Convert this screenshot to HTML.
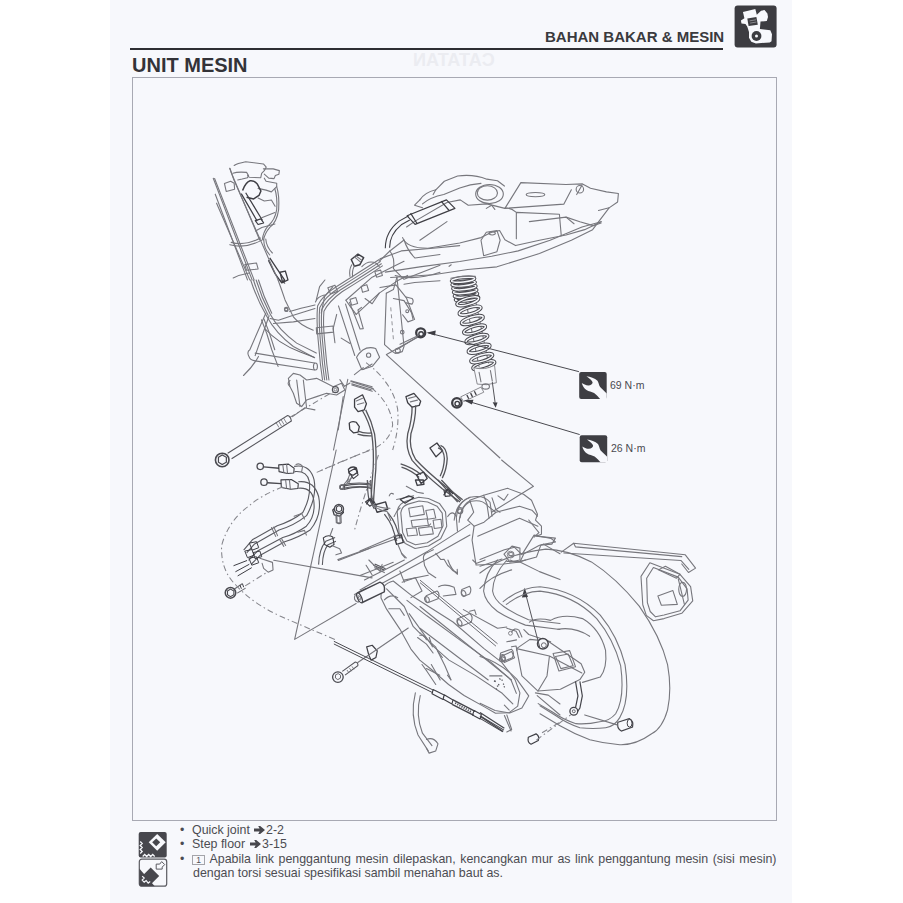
<!DOCTYPE html>
<html><head><meta charset="utf-8">
<style>
html,body{margin:0;padding:0;width:903px;height:903px;overflow:hidden;background:#ffffff;}
body{position:relative;font-family:"Liberation Sans",sans-serif;color:#3a3a3e;}
#page{position:absolute;left:110px;top:0;width:682px;height:903px;background:#f7f8fc;}
.abs{position:absolute;white-space:nowrap;}
#hdr{left:545px;top:28px;font-size:15px;font-weight:bold;color:#3a3a3e;letter-spacing:0;}
#hline{position:absolute;left:130px;top:48px;width:593px;height:2px;background:#2e2e33;}
#icon{position:absolute;left:735px;top:6px;width:42px;height:41px;background:#3c3c40;border-radius:3px;}
#title{left:132px;top:53.5px;font-size:20px;font-weight:bold;color:#333338;}
#frame{position:absolute;left:132px;top:77px;width:645px;height:744px;border:1.2px solid #a8a9b3;box-sizing:border-box;}
.note{position:absolute;font-size:12.4px;color:#4c4c52;white-space:nowrap;}
svg{position:absolute;left:0;top:0;}
svg path,svg circle,svg ellipse,svg rect,svg line,svg polyline,svg polygon{vector-effect:non-scaling-stroke;}
.d{fill:none;stroke:#77777d;stroke-width:1.1;stroke-linejoin:round;stroke-linecap:round;}
.k{fill:none;stroke:#3e3e44;stroke-width:1.3;stroke-linejoin:round;}
.f{fill:#46464c;stroke:#3e3e44;stroke-width:1;}
.w{fill:#f7f8fc;stroke:#808086;stroke-width:0.9;}
.ds{fill:none;stroke:#85858b;stroke-width:1.05;stroke-dasharray:6 3 1.5 3;}
</style></head>
<body>
<div id="page"></div>
<div class="abs" style="left:413px;top:50.2px;font-size:18px;font-weight:bold;color:#ebecf1;transform:scaleX(-1);">CATATAN</div>
<div id="hline"></div>
<div class="abs" id="hdr">BAHAN BAKAR &amp; MESIN</div>
<div class="abs" id="title">UNIT MESIN</div>
<div id="frame"></div>

<svg width="903" height="903" viewBox="0 0 903 903">
<g transform="translate(220,160) scale(0.088594)">
<path class="d" d="M160,62 Q190,40 290,20 L490,45 L522,80 L500,120 L470,150 L460,200 L330,195 L310,170"/>
<path class="d" d="M490,100 L600,100 L670,120 L665,160 L625,175 L610,210 L550,205 L500,160"/>
<path class="d" d="M500,205 L520,240 L640,262 L640,300 L580,360 L520,340 L430,320"/>
<path class="d" d="M50,265 L120,240 L160,262 L165,330 L70,355 Z"/>
<path class="d" d="M145,150 Q200,130 300,140 L322,175 L310,200 L250,215 L200,225"/>
<path class="d" d="M110,95 L130,150 L448,903"/>
<path class="k" d="M255,345 Q290,250 340,235 Q390,230 420,270 L462,350 L440,400 L380,440 L300,420" style="stroke-width:1.5"/>
<path class="k" d="M240,380 L420,690 M290,370 L478,680" style="stroke-width:1.2"/>
<path class="k" d="M398,685 L462,665 L492,710 L430,728 Z" style="stroke-width:1.2"/>
<path class="d" d="M640,300 Q672,400 662,560 Q642,700 562,760 Q502,830 492,903 M618,322 Q650,420 640,560 Q620,680 545,740 Q487,810 477,903"/>
<path class="d" d="M430,430 L500,462 L580,452 L622,522 M470,652 L620,592 M400,802 L472,762 L620,722"/>
</g>

<g transform="translate(200,280) scale(0.16611)">
<!-- cables -->
<path class="d" d="M305,0 Q340,110 400,215 Q455,320 562,400 L690,468"/>
<path class="d" d="M322,0 Q356,110 410,212"/>
<path class="d" d="M338,0 Q370,105 422,205 Q472,300 582,380 L700,440"/>
<path class="d" d="M352,0 Q382,100 432,200"/>
<path d="M390,292 Q470,382 600,432 L690,466" fill="none" stroke="#6a6a70" stroke-width="1.1"/>
<path class="d" d="M370,240 L402,322 L432,420 L470,520 M385,235 L418,320 L450,420"/>
<!-- frame band -->
<path class="d" d="M470,0 Q492,60 512,120 L562,222 Q602,272 682,302"/>
<circle class="d" cx="520" cy="180" r="10"/>
<path class="d" d="M422,232 L472,242 L562,212 L692,172 M442,262 L562,252 L692,232 M540,190 Q600,170 692,150"/>
<path class="d" d="M480,0 L510,20 L500,0"/>
<!-- horizontal tube -->
<path class="d" d="M292,455 Q282,430 300,420 L396,200 M332,455 L416,215"/>
<path class="d" d="M294,458 Q300,482 332,487 L690,542 M332,440 L690,500"/>
<ellipse class="d" cx="695" cy="521" rx="12" ry="21"/>
<path class="d" d="M262,575 Q320,520 352,460"/>
<path class="d" d="M752,0 L720,40 L700,120 M800,40 L750,100 L730,200 M850,350 L903,382"/>
<!-- bracket -->
<path class="d" d="M532,592 L562,562 L602,572 L642,602 L702,592 L762,622 L802,642 L852,622 L872,662 L822,692 L762,682 L702,702 L642,722 L612,762 L582,742 L562,682 L542,642 Z"/>
<path class="d" d="M582,602 L602,762 M622,602 L642,772 L692,782 M542,605 Q520,620 540,640"/>
<circle cx="815" cy="660" r="18" fill="none" stroke="#55555b" stroke-width="1.2"/>
<circle cx="815" cy="660" r="8" fill="none" stroke="#7a7a80" stroke-width="0.9"/>
<path class="d" d="M862,702 L832,903"/>
<path class="d" d="M842,600 L870,640 L903,620"/>
</g>

<g transform="translate(380,160) scale(0.26578)">
<path class="d" d="M150,150 Q168,122 210,112 L242,80 L292,60 Q352,52 402,72 L442,78 L468,98"/>
<path class="d" d="M160,165 Q190,140 240,130 L300,105 Q340,90 380,88"/>
<ellipse class="d" cx="412" cy="128" rx="52" ry="36"/>
<ellipse class="d" cx="404" cy="124" rx="38" ry="27"/>
<path class="d" d="M470,182 L530,85 L700,92 L762,90 L792,106 L852,120 L897,126 L894,158 L862,180 L822,190"/>
<path class="d" d="M470,182 L692,166 M692,166 L720,112"/>
<ellipse class="d" cx="585" cy="130" rx="35" ry="8"/>
<circle class="d" cx="752" cy="110" r="14"/>
<path class="d" d="M740,130 L760,95"/>
<path class="d" d="M100,252 L132,230 L252,160 L302,150 L332,170 L402,165 L470,182"/>
<path class="d" d="M85,292 Q100,332 180,332 L300,312 L380,292 L420,272 L450,265 L470,300 L510,322 L600,302 L700,282 L770,262 L832,232"/>
<path class="d" d="M562,232 L700,215 L752,232 L802,247 L832,237"/>
<path class="d" d="M472,181 Q490,178 513,197 L513,296 M513,197 L675,204 L682,285 M700,215 L730,240"/>
<path class="d" d="M380,302 L400,272 L440,265 L452,302 L440,345 L390,360 Z"/>
<ellipse class="d" cx="422" cy="276" rx="12" ry="6"/>
<path class="d" d="M0,372 L80,342 L200,332 L300,322"/>
<path class="d" d="M20,422 L150,402 L300,382 L420,362 L520,342 L640,302 L760,252 L832,232"/>
<path class="d" d="M40,442 L200,432 L330,412 L440,402 L600,352 L720,302 L800,262 L862,180"/>
<path class="k" d="M102,210 L250,150 L282,182 L132,242 Z" style="stroke-width:1.2"/>
<path class="k" d="M115,200 L140,240 M230,155 L260,190" style="stroke-width:1.2"/>
<path class="k" d="M20,332 Q20,270 72,230 L108,210 M36,330 Q36,280 80,244 L112,226" style="stroke-width:1.1"/>
<path class="d" d="M150,302 L252,232"/>
<path class="d" d="M400,182 L420,170 L432,186 M260,400 L268,394"/>
<path class="d" d="M150,150 L130,170 L160,180 M210,112 L200,130"/>
<path class="d" d="M0,480 L60,470 L100,520 L130,600"/>
</g>

<g transform="translate(190,150) scale(0.33223)">
<!-- cables -->
<path class="d" d="M222,270 Q222,295 240,316 M228,268 Q230,292 248,310"/>
<path class="d" d="M70,85 L187,391"/>
<path class="d" d="M74,86 L193,391"/>
<path class="d" d="M76,133 L173,391"/>
<path class="d" d="M80,160 L180,391"/>
<path class="d" d="M120,285 Q165,298 215,272"/>
<path class="d" d="M124,278 Q165,290 212,265"/>
<path class="d" d="M165,345 L200,340 L205,358 L170,362 Z"/>
<path class="d" d="M130,385 Q150,375 178,370"/>
<path class="k" d="M240,325 L262,358 L285,392 L276,400 L256,372 L236,332"/>
<path class="d" d="M120,55 L132,90 L265,391"/>
<path class="ds" d="M300,805 L440,722"/>
<!-- triangle lines -->
<path class="d" d="M475,690 L432,903"/>
<path class="d" d="M591,616 L933,927"/>
<path class="ds" d="M530,640 Q610,700 625,780 Q630,840 610,903"/>
</g>

<g transform="translate(490,150) scale(0.33223)">
</g>

<g transform="translate(190,450) scale(0.33223)">
<!-- triangle lines -->
<path class="d" d="M440,0 L315,570 L500,462"/>
<path class="d" d="M252,332 L548,385"/>
<path class="d" d="M445,330 L635,262"/>
</g>

<g transform="translate(490,450) scale(0.33223)">
</g>

<g transform="translate(380,460) scale(0.19934)">
<!-- hose -->
<path class="d" d="M372,302 Q382,212 452,187 Q522,172 552,212 L562,282"/>
<path class="d" d="M397,312 Q402,232 457,207 Q512,197 537,227 L547,292"/>
<circle class="d" cx="402" cy="257" r="12"/>
<!-- airbox -->
<path class="d" d="M450,202 L520,177 L640,142 L720,172 L760,202 L790,272 L780,302 L810,332 L810,372 L782,382 L880,392 L862,422 L800,428 L722,470 L702,512 L620,522 L482,527 L462,402 L472,332 L440,302 L470,262 Z"/>
<path class="d" d="M472,332 L522,312 L582,262 L700,232 L762,252 L790,282 M490,382 L700,292 L792,332"/>
<path class="d" d="M562,190 L582,250 L602,262 M592,180 L622,202 L642,172 M520,177 L540,230 L580,262"/>
<path class="d" d="M622,472 L662,432 L702,442 L702,502 L652,512 Z"/>
<ellipse class="d" cx="657" cy="472" rx="12" ry="8"/>
<path class="d" d="M610,0 L770,132 L560,262"/>
<!-- frame diag and crankcase -->
<path class="d" d="M820,422 L903,470 M702,512 L800,560 L903,600"/>
</g>

<g transform="translate(360,480) scale(0.12182)">
<!-- head outline double -->
<path class="d" d="M305,262 Q312,195 382,172 L482,142 L562,152 L652,192 L702,262 L712,380 L662,482 L562,542 L452,562 L372,522 L322,442 Z"/>
<path class="d" d="M335,270 Q342,215 395,198 L485,172 L555,180 L632,215 L675,272 L682,375 L640,462 L552,515 L455,532 L385,500 L350,432 Z"/>
<!-- fins -->
<path class="d" d="M400,232 L515,212 L528,282 L412,302 Z"/>
<path class="d" d="M540,250 L605,240 L622,312 L556,322 Z"/>
<path class="d" d="M420,332 L552,318 L562,372 L430,386 Z"/>
<path class="d" d="M480,395 L590,382 L602,442 L492,455 Z"/>
<path class="d" d="M380,400 L460,392 L472,452 L392,460 Z"/>
<path class="d" d="M600,330 L665,322 L672,390 L610,398 Z"/>
<path class="d" d="M280,300 Q300,250 330,230 M720,300 Q760,240 790,300 L800,420"/>
<!-- harness left -->
<path class="k" d="M60,0 Q62,100 72,152 L118,238 M88,0 Q90,100 100,150 L140,222" style="stroke:#55555b;stroke-width:1.2"/>
<path class="k" d="M45,180 L75,158 L110,195 L80,215 Z" style="stroke-width:1.2"/>
<path class="k" d="M118,205 L210,180 L228,240 L140,265 Z" style="stroke-width:1.4"/>
<path class="k" d="M200,280 Q240,330 262,380 L302,500 M230,270 Q272,320 292,372 L330,480" style="stroke:#55555b;stroke-width:1.2"/>
<path class="k" d="M280,462 L340,450 L355,512 L300,528 Z" style="stroke-width:1.4"/>
<path class="d" d="M310,528 L345,610 L370,640"/>
<!-- top connector and right harness -->
<path class="k" d="M455,0 L520,0 L525,35 L470,45 Z" style="stroke-width:1.3"/>
<path class="d" d="M380,52 L470,100 L520,110 M240,130 Q250,100 275,115 M300,160 L440,130"/>
<path class="k" d="M330,160 L400,130 L440,145 L370,190 Z" style="stroke-width:1.2"/>
<path class="k" d="M640,0 L802,182 M668,0 L828,170" style="stroke:#55555b;stroke-width:1.3"/>
<path class="k" d="M690,85 L735,80 L740,130 L700,135 Z" style="stroke-width:1.2"/>
<path class="d" d="M792,302 Q802,182 903,142 M822,310 Q830,210 903,170"/>
<circle class="d" cx="820" cy="250" r="24"/>
<!-- long diagonals -->
<path class="d" d="M0,582 L332,442"/>
<path class="d" d="M0,903 L560,582 L903,362"/>
<path class="d" d="M80,903 L600,622 L903,452"/>
<!-- crankcase corner -->
<path class="d" d="M520,642 Q520,602 562,592 L602,572 M520,642 L530,702 L560,762 L622,802"/>
<path class="d" d="M622,602 L662,652 L690,650 L720,702 L740,720 L760,742 L800,762"/>
<path class="d" d="M360,822 L560,782 M120,720 L200,760 M50,700 L100,780"/>
<path class="k" d="M110,700 L200,740 M120,690 L210,728" style="stroke:#55555b;stroke-width:1.2"/>
<path class="d" d="M340,600 L380,640 M560,380 L580,360"/>
</g>

<g transform="translate(280,240) scale(0.17719)">
<!-- cable bundle -->
<path class="d" d="M560,110 Q450,180 320,262 Q240,310 212,372 Q205,450 215,560 L228,700 L240,790"/>
<path class="d" d="M566,122 Q458,192 330,272 Q252,322 224,382 Q218,455 227,560 L240,700 L252,790"/>
<path class="d" d="M572,134 Q466,204 340,282 Q264,334 236,392 Q230,460 239,560 L252,700 L264,790"/>
<path class="d" d="M578,146 Q474,216 350,292 Q276,346 248,402 Q242,465 251,560 L264,700 L276,790"/>
<path class="d" d="M205,495 L300,485 L302,520 L207,530 Z"/>
<path class="d" d="M270,270 L310,255 L325,290 L285,305 Z M200,350 Q210,320 250,310"/>
<!-- rear frame plate -->
<path class="d" d="M372,340 L520,210 L640,150 L700,120"/>
<path class="d" d="M430,420 L560,300 L660,232 L720,200"/>
<path class="d" d="M372,340 L400,380 L430,420"/>
<path class="d" d="M535,178 L568,170 L578,200 L545,210 Z M458,262 L490,252 L500,285 L466,295 Z M395,335 L428,325 L438,358 L404,368 Z"/>
<path class="d" d="M480,330 L520,360 L560,300"/>
<!-- vertical hanger plate -->
<path class="d" d="M600,300 L590,590 L625,622 M660,210 L700,600 L690,630 L650,640 L625,622"/>
<circle class="d" cx="665" cy="625" r="14"/>
<path d="M625,380 L640,560" stroke="#8a8a90" stroke-width="0.9" stroke-dasharray="4 3" fill="none"/>
<circle class="d" cx="690" cy="520" r="10"/>
<path class="d" d="M600,300 L640,280 L660,210"/>
<!-- tab right -->
<path class="d" d="M640,330 L700,342 L742,410 L752,452 L722,462 L692,422"/>
<circle class="d" cx="718" cy="402" r="8"/>
<path class="d" d="M712,322 L745,330 Q758,345 745,362 L712,355"/>
<path class="d" d="M780,545 L660,618"/>
<!-- rear tube -->
<path class="d" d="M330,372 L422,652 M370,362 L452,622"/>
<path class="d" d="M392,352 L452,502 L470,500 L440,395 L460,380"/>
<path class="d" d="M320,420 L300,500 L310,580"/>
<!-- tank front -->
<path class="d" d="M620,62 Q650,102 640,162 L700,222 L903,142"/>
<path class="d" d="M700,0 Q720,60 762,102 L903,82 M650,200 Q760,232 903,182 M700,250 L760,240 L903,230"/>
<path class="d" d="M560,120 L620,62 L700,0"/>
<!-- dark connector -->
<path class="k" d="M402,110 L440,80 L472,100 L450,140 L420,148 Z" style="stroke-width:1.5"/>
<path class="d" d="M420,95 L455,125 M430,90 L462,115"/>
<path class="d" d="M405,140 Q388,170 395,205 M420,146 Q405,175 410,208"/>
<path class="d" d="M462,150 Q500,110 545,132 L560,150"/>
<path class="k" d="M0,182 L30,175 L45,225 L15,240 Z"/>
<!-- pivot / mount -->
<path class="d" d="M432,662 Q472,592 540,612 L562,662 L522,712 L462,732 Z"/>
<circle class="d" cx="500" cy="650" r="12"/>
<path class="d" d="M420,760 L470,720 M470,730 L520,700"/>
<path class="d" d="M400,795 L520,828 M405,812 L515,845"/>
<circle class="d" cx="35" cy="390" r="10"/>
</g>

<g transform="translate(320,370) scale(0.17719)">
<path class="k" d="M195,165 L240,140 L262,190 L250,225 L215,235 L195,210 Z"/>
<path class="d" d="M205,175 L240,160 M212,195 L248,185"/>
<path class="k" d="M240,230 Q275,290 292,360 Q305,450 300,560 Q290,680 288,745 M258,225 Q292,290 308,360 Q320,450 315,560 Q305,680 302,745" style="stroke:#55555a"/>
<path class="k" d="M165,300 Q180,285 205,295 L222,320 L215,350 L190,355 L168,335 Z"/>
<path class="k" d="M215,345 Q250,360 290,355 M212,362 Q250,374 292,372" style="stroke:#55555a"/>
<path class="k" d="M290,650 Q210,635 130,655 M290,668 Q215,652 135,674" style="stroke:#55555a"/>
<circle class="k" cx="125" cy="662" r="12"/>
<path class="k" d="M160,560 Q180,540 205,552 L212,578 L185,595 L165,585 Z"/>
<path class="d" d="M168,590 L152,630 M182,595 L162,640"/>
<path class="k" d="M262,758 L282,725 L308,752"/>
<path class="d" d="M290,760 Q330,790 380,800 L400,850 M300,760 Q340,780 395,780"/>
<path class="k" d="M485,150 L530,132 L568,176 L560,200 L520,210 L495,185 Z"/>
<path class="d" d="M500,160 L540,150 M510,180 L550,170"/>
<path class="k" d="M520,205 Q520,280 495,360 Q480,440 520,510 Q580,580 690,670 L790,745 M540,200 Q540,280 513,360 Q500,440 540,505 Q600,570 705,655 L805,732" style="stroke:#55555a"/>
<path class="k" d="M620,440 L660,412 L692,455 L655,490 Z"/>
<path class="k" d="M680,425 Q715,436 718,500 Q715,560 690,610 M666,440 Q700,450 702,500 Q700,555 678,600" style="stroke:#55555a"/>
<path class="k" d="M698,708 L720,672 L752,700"/>
<path class="k" d="M455,530 Q520,550 570,590 M460,548 Q515,566 560,606" style="stroke:#55555a"/>
<path class="k" d="M545,592 L585,576 L605,612 L570,640 Z"/>
<path class="k" d="M72,790 L95,770 L125,778 L132,805 L110,825 L80,818 Z"/>
<path class="d" d="M90,822 L92,862 M112,822 L114,862 M92,862 L114,862"/>
<path class="ds" d="M290,100 Q400,190 410,310 Q395,420 250,465 Q110,520 0,570"/>
<path class="ds" d="M330,480 Q250,700 195,903"/>
<path class="d" d="M175,65 L300,105 M180,85 L295,120"/>
</g>
<path class="d" d="M386.5,354.6 L418,337"/>

<g transform="translate(400,250) scale(0.18832)">
<path class="d" d="M345,250 L420,620 M395,240 L470,600"/>
<ellipse cx="356" cy="258" rx="62" ry="12" transform="rotate(-6 356 258)" fill="none" stroke="#4a4a50" stroke-width="3.4"/><ellipse cx="356" cy="258" rx="62" ry="12" transform="rotate(-6 356 258)" fill="none" stroke="#f7f8fc" stroke-width="1.4"/>
<ellipse cx="350" cy="238" rx="62" ry="12" transform="rotate(-6 350 238)" fill="none" stroke="#4a4a50" stroke-width="3.4"/><ellipse cx="350" cy="238" rx="62" ry="12" transform="rotate(-6 350 238)" fill="none" stroke="#f7f8fc" stroke-width="1.4"/>
<ellipse cx="346" cy="218" rx="62" ry="12" transform="rotate(-6 346 218)" fill="none" stroke="#4a4a50" stroke-width="3.4"/><ellipse cx="346" cy="218" rx="62" ry="12" transform="rotate(-6 346 218)" fill="none" stroke="#f7f8fc" stroke-width="1.4"/>
<ellipse cx="342" cy="198" rx="62" ry="12" transform="rotate(-6 342 198)" fill="none" stroke="#4a4a50" stroke-width="3.4"/><ellipse cx="342" cy="198" rx="62" ry="12" transform="rotate(-6 342 198)" fill="none" stroke="#f7f8fc" stroke-width="1.4"/>
<ellipse cx="338" cy="178" rx="62" ry="12" transform="rotate(-6 338 178)" fill="none" stroke="#4a4a50" stroke-width="3.4"/><ellipse cx="338" cy="178" rx="62" ry="12" transform="rotate(-6 338 178)" fill="none" stroke="#f7f8fc" stroke-width="1.4"/>
<ellipse cx="335" cy="158" rx="62" ry="12" transform="rotate(-6 335 158)" fill="none" stroke="#4a4a50" stroke-width="3.4"/><ellipse cx="335" cy="158" rx="62" ry="12" transform="rotate(-6 335 158)" fill="none" stroke="#f7f8fc" stroke-width="1.4"/>
<ellipse cx="445" cy="612" rx="60" ry="17" transform="rotate(-16 445 612)" fill="none" stroke="#4a4a50" stroke-width="3.4"/><ellipse cx="445" cy="612" rx="60" ry="17" transform="rotate(-16 445 612)" fill="none" stroke="#f7f8fc" stroke-width="1.4"/>
<ellipse cx="434" cy="574" rx="60" ry="17" transform="rotate(-16 434 574)" fill="none" stroke="#4a4a50" stroke-width="3.4"/><ellipse cx="434" cy="574" rx="60" ry="17" transform="rotate(-16 434 574)" fill="none" stroke="#f7f8fc" stroke-width="1.4"/>
<ellipse cx="420" cy="524" rx="60" ry="17" transform="rotate(-16 420 524)" fill="none" stroke="#4a4a50" stroke-width="3.4"/><ellipse cx="420" cy="524" rx="60" ry="17" transform="rotate(-16 420 524)" fill="none" stroke="#f7f8fc" stroke-width="1.4"/>
<ellipse cx="408" cy="472" rx="60" ry="17" transform="rotate(-16 408 472)" fill="none" stroke="#4a4a50" stroke-width="3.4"/><ellipse cx="408" cy="472" rx="60" ry="17" transform="rotate(-16 408 472)" fill="none" stroke="#f7f8fc" stroke-width="1.4"/>
<ellipse cx="396" cy="422" rx="60" ry="17" transform="rotate(-16 396 422)" fill="none" stroke="#4a4a50" stroke-width="3.4"/><ellipse cx="396" cy="422" rx="60" ry="17" transform="rotate(-16 396 422)" fill="none" stroke="#f7f8fc" stroke-width="1.4"/>
<ellipse cx="384" cy="372" rx="60" ry="17" transform="rotate(-16 384 372)" fill="none" stroke="#4a4a50" stroke-width="3.4"/><ellipse cx="384" cy="372" rx="60" ry="17" transform="rotate(-16 384 372)" fill="none" stroke="#f7f8fc" stroke-width="1.4"/>
<ellipse cx="372" cy="322" rx="60" ry="17" transform="rotate(-16 372 322)" fill="none" stroke="#4a4a50" stroke-width="3.4"/><ellipse cx="372" cy="322" rx="60" ry="17" transform="rotate(-16 372 322)" fill="none" stroke="#f7f8fc" stroke-width="1.4"/>
<ellipse cx="360" cy="272" rx="60" ry="17" transform="rotate(-16 360 272)" fill="none" stroke="#4a4a50" stroke-width="3.4"/><ellipse cx="360" cy="272" rx="60" ry="17" transform="rotate(-16 360 272)" fill="none" stroke="#f7f8fc" stroke-width="1.4"/>
<path class="d" d="M270,150 Q330,135 400,140"/>
<path class="w" d="M392,625 L410,712 Q460,722 512,705 L502,612 Q450,640 392,625 Z"/>
<path class="d" d="M420,650 L430,700 M480,640 L490,695"/>
<ellipse class="d" cx="455" cy="725" rx="20" ry="14"/>
<circle cx="110" cy="440" r="24" fill="#f7f8fc" stroke="#3e3e44" stroke-width="2.3"/>
<circle cx="112" cy="446" r="12" fill="none" stroke="#3e3e44" stroke-width="1.4"/>
<path d="M0,500 L95,455" class="d"/>
<path d="M150,440 L950,646" stroke="#4a4a50" stroke-width="1" fill="none"/>
<path d="M140,440 L190,428 L186,454 Z" fill="#3e3e44"/>
<path class="w" d="M322,780 L430,728 L445,755 L338,805 Z"/>
<path class="k" d="M355,770 L365,790 M375,760 L385,780 M395,750 L405,770"/>
<circle cx="302" cy="812" r="25" fill="#f7f8fc" stroke="#3e3e44" stroke-width="2.3"/>
<circle cx="304" cy="816" r="12" fill="none" stroke="#3e3e44" stroke-width="1.4"/>
<path d="M350,800 L954,980" stroke="#4a4a50" stroke-width="1" fill="none"/>
<path d="M338,798 L390,795 L382,820 Z" fill="#3e3e44"/>
<path d="M490,700 L505,810" stroke="#55555a" stroke-width="1" fill="none"/>
<path d="M492,808 L518,810 L508,838 Z" fill="#3e3e44"/>

</g>
<g transform="translate(200,440) scale(0.18826)">
<!-- long bolt head -->
<circle cx="118" cy="106" r="36" fill="#f7f8fc" stroke="#4a4a50" stroke-width="1.6"/>
<path d="M98,92 L118,80 L140,92 L140,118 L118,130 L98,118 Z" fill="none" stroke="#4a4a50" stroke-width="1.2"/>
<!-- cable 1 -->
<circle cx="320" cy="140" r="17" fill="#f7f8fc" stroke="#4a4a50" stroke-width="1.3"/>
<path d="M337,143 L420,150" stroke="#4a4a50" stroke-width="1.3" fill="none"/>
<path class="k" d="M418,132 L470,128 L500,150 L498,175 L465,178 L420,168 Z" style="stroke-width:1.1"/>
<path class="d" d="M440,132 L445,172 M460,130 L465,176"/>
<path class="k" d="M500,140 Q585,125 606,212 Q622,302 566,402 Q500,455 420,478 L290,552 L248,600 M502,168 Q568,162 580,218 Q592,300 546,385 Q490,430 410,455 L278,530 L232,585" style="stroke:#5a5a60;stroke-width:1.1"/>
<!-- cable 2 -->
<circle cx="340" cy="224" r="17" fill="#f7f8fc" stroke="#4a4a50" stroke-width="1.3"/>
<path d="M357,227 L432,232" stroke="#4a4a50" stroke-width="1.3" fill="none"/>
<path class="k" d="M430,212 L485,210 L522,232 L520,258 L482,262 L432,252 Z" style="stroke-width:1.1"/>
<path class="d" d="M455,214 L460,256 M475,212 L480,260"/>
<path class="k" d="M522,222 Q605,212 630,300 Q650,400 585,478 Q520,520 450,540 L320,612 L272,660 M522,256 Q595,250 604,320 Q616,402 565,458 Q505,500 440,518 L305,590 L258,640" style="stroke:#5a5a60;stroke-width:1.1"/>
<path class="d" d="M510,130 Q530,120 545,140 L540,168"/>
<path class="d" d="M380,465 L402,512 M392,462 L412,508 M425,532 L445,565 M435,528 L455,560"/>
<path class="k" d="M262,548 L300,540 L312,572 L278,585 Z M238,590 L275,582 L288,612 L252,625 Z M260,628 L300,620 L312,652 L275,665 Z M282,598 L318,590 L328,620 L292,630 Z" style="stroke-width:1"/>
<path class="d" d="M500,405 L540,390 L555,420 M520,490 L555,480 L565,505"/>
<path class="k" d="M250,640 L178,668 M262,660 L188,700 M275,678 L200,722" style="stroke-width:1"/>
<path class="d" d="M318,628 L385,650 L388,690 L362,702 L338,682 L330,655"/>
<!-- small bolt -->
<path class="d" d="M185,790 L222,765 M200,812 L240,788" style="stroke:#6a6a70;stroke-width:1.1"/>
<path class="k" d="M212,770 L220,790 M225,762 L232,782" style="stroke-width:1"/>
<circle cx="162" cy="812" r="28" fill="#f7f8fc" stroke="#4a4a50" stroke-width="1.5"/>
<path d="M146,802 L162,792 L180,802 L180,822 L162,832 L146,822 Z" fill="none" stroke="#4a4a50" stroke-width="1.1"/>
<path class="ds" d="M240,775 L360,700"/>
<!-- dashed curve -->
<path class="ds" d="M440,250 Q330,290 260,350 Q150,430 115,560 Q108,690 190,770"/>
<path class="ds" d="M620,172 L903,52"/>
<!-- right bolt + hose -->
<circle cx="738" cy="366" r="24" fill="#f7f8fc" stroke="#4a4a50" stroke-width="1.5"/>
<path d="M725,356 L738,348 L752,356 L752,374 L738,382 L725,374 Z" fill="none" stroke="#4a4a50" stroke-width="1.1"/>
<path class="d" d="M726,390 L728,440 Q738,448 750,440 L748,390" style="stroke:#6a6a70"/>
<path class="k" d="M630,662 Q632,580 668,538 L718,518 M650,664 Q652,592 680,556 L722,538" style="stroke:#5a5a60;stroke-width:1.1"/>
<path class="k" d="M655,520 Q680,500 705,515 L712,555 L690,570 L662,555 Z" style="stroke-width:1.1"/>
<path class="d" d="M705,470 L690,510 M700,560 L742,578 L752,600 L722,610"/>
<path class="k" d="M790,170 L825,150 L840,185 L815,205 Z" style="stroke-width:1.1"/>
<path class="d" d="M805,200 L780,230 M790,205 L765,235"/>
<path class="k" d="M750,240 Q820,222 903,232 M752,258 Q822,242 903,250" style="stroke:#5a5a60;stroke-width:1.1"/>
<ellipse class="d" cx="752" cy="250" rx="10" ry="12"/>
<path class="d" d="M735,640 L903,575"/>
<path class="d" d="M820,820 L880,790 M840,860 L903,825 M825,822 Q810,850 840,862"/>
</g>

<g transform="translate(360,560) scale(0.22148)">
<!-- transmission case -->
<path class="d" d="M150,95 L232,160 L420,280 L560,400 L640,462 L700,540 L722,600 L712,660 L672,690 L612,692 L560,662 L470,612 L400,562 L320,492 L270,452 L230,402 L180,312 L120,222 L95,172 Q92,110 150,95 Z"/>
<path class="d" d="M212,182 L302,252 L452,362 L592,462 L682,542 L706,602"/>
<path class="d" d="M222,242 L322,382 L402,452 L522,522 L642,602 L690,650"/>
<path class="d" d="M120,130 L200,210 L240,300 L270,330 M130,220 L180,220 L200,250 M110,180 Q140,150 170,170"/>
<path class="d" d="M260,350 L300,380 L330,420 M270,340 Q290,335 300,360"/>
<path class="d" d="M300,490 L360,520 M350,410 L372,440 M395,520 L410,540"/>
<!-- engine mount bushing -->
<path d="M-12,149 L90,100 Q116,108 110,144 L8,193" fill="#f7f8fc" stroke="#45454b" stroke-width="1.4"/>
<ellipse cx="-2" cy="171" rx="9" ry="24" transform="rotate(-25 -2 171)" fill="#f7f8fc" stroke="#45454b" stroke-width="1.3"/><ellipse cx="-2" cy="171" rx="4" ry="11" transform="rotate(-25 -2 171)" fill="none" stroke="#6a6a70" stroke-width="0.9"/>
<path class="d" d="M0,70 L100,30 L150,10 M20,90 L200,0 M40,0 L90,50 L100,20"/>
<path class="d" d="M190,100 L250,80 L280,140 L230,170 M200,100 L180,50"/>
<!-- brake cable -->
<path class="k" d="M30,392 L55,385 L78,410 L72,440 L50,452 L40,430 Z" style="stroke-width:1.2"/>
<path class="d" d="M-10,463 L218,307"/>
<path d="M-118,367 L332,588 M-118,379 L330,600" fill="none" stroke="#4a4a50" stroke-width="1"/>
<path class="k" d="M330,585 L380,610 L375,630 L325,604 Z M380,608 L420,632 L415,650 L375,628 Z" style="stroke-width:1.1"/>
<path d="M420,632 L520,684 M416,652 L514,702" fill="none" stroke="#45454b" stroke-width="1.4"/>
<path d="M430,645 L505,688" stroke="#55555b" stroke-width="2" stroke-dasharray="1.2 1.2" fill="none"/>
<path class="k" d="M515,680 L548,698 L542,718 L508,700 Z" style="stroke-width:1.1"/>
<path d="M545,705 L650,768 M542,715 L645,776" fill="none" stroke="#45454b" stroke-width="1.1"/>
<!-- kickstand -->
<path class="d" d="M250,600 Q225,700 262,790 L308,862 M272,612 Q250,700 282,782 L325,838"/>
<path class="d" d="M300,810 Q332,798 352,830 L342,862 L312,872 L300,850"/>
<path class="d" d="M280,472 L302,502 L342,562 M322,472 L362,542"/>
<!-- pin -->
<path class="k" d="M760,800 L795,785 Q812,795 805,815 L772,832 Q755,825 760,800 Z" style="stroke-width:1.2"/>
<path class="ds" d="M822,780 L903,732"/>
<path class="d" d="M652,702 L682,772"/>
<path d="M605,545 L610,548 M625,560 L628,566 M640,540 L643,545 M615,580 L618,585 M650,570 L653,575" stroke="#55555b" stroke-width="1.2"/>
<path class="d" d="M792,600 L850,610 L903,650 M800,612 L903,700"/>
</g>

<g transform="translate(420,560) scale(0.15504)">
<path class="d" d="M500,0 Q420,80 410,200 Q420,272 500,332 Q580,382 680,420 L903,448"/>
<path class="d" d="M560,0 Q470,100 468,200 Q476,255 540,300 Q610,350 700,385 L903,410"/>
<path class="d" d="M120,172 Q160,150 220,176 L232,222 L150,232"/>
<path class="d" d="M40,230 L110,200 Q132,215 116,250 L50,276 Q30,262 40,230 Z"/>
<ellipse class="d" cx="45" cy="255" rx="14" ry="20" transform="rotate(-25 45 255)"/>
<path class="d" d="M270,190 L320,170 Q336,190 320,220 L280,236 Q258,222 270,190 Z"/>
<ellipse class="d" cx="282" cy="215" rx="13" ry="19" transform="rotate(-25 282 215)"/>
<path class="d" d="M240,380 L320,345 Q346,362 330,402 L265,428 Q236,416 240,380 Z M320,330 L352,322 L362,352"/>
<ellipse class="d" cx="255" cy="405" rx="14" ry="21" transform="rotate(-25 255 405)"/>
<path class="d" d="M520,600 L590,575 Q612,595 596,630 L535,656 Q510,642 520,600 Z M590,560 L620,555 L625,585"/>
<ellipse class="d" cx="535" cy="630" rx="14" ry="20" transform="rotate(-25 535 630)"/>
<path d="M0,130 L500,540 M0,146 L490,556" fill="none" stroke="#707076" stroke-width="1"/>
<path class="d" d="M0,300 L590,774 M0,440 L440,774"/>
<path class="d" d="M280,320 L500,440 L560,432 M560,440 L620,460 L640,500"/>
<path class="d" d="M340,0 L362,22 L420,0 M580,0 Q620,22 680,0 M180,0 Q200,60 242,92 L240,60"/>
<path class="d" d="M0,470 L100,560 L160,680 L200,774 M60,500 L80,560"/>
</g>

<g transform="translate(480,520) scale(0.24363)">
<!-- caliper / panel -->
<path class="d" d="M150,528 L205,490 L280,498 L415,590 L430,625 L410,655 L330,695 L238,702 L172,640 Z"/>
<path class="d" d="M150,528 L285,558 L418,628 M285,558 L275,640 L238,702"/>
<path class="d" d="M300,548 L368,536 L392,602 L324,620 Z M310,560 L362,550 L382,598 L332,610 Z"/>
<path class="d" d="M180,450 L200,470 L290,500 M130,460 Q140,440 160,452 L172,480 M110,500 L150,492"/>
<circle cx="125" cy="465" r="8" fill="none" stroke="#7a7a80" stroke-width="0.9"/>
<path class="d" d="M85,560 L130,540 L142,565 L100,585 Z"/>
<ellipse class="d" cx="92" cy="572" rx="12" ry="10"/>
<circle cx="258" cy="508" r="22" fill="#f7f8fc" stroke="#45454b" stroke-width="1.5"/>
<circle cx="262" cy="514" r="10" fill="none" stroke="#6a6a70" stroke-width="1"/>
<path d="M245,522 L187,302" stroke="#55555b" stroke-width="1" fill="none"/>
<path d="M172,318 L183,278 L197,316 Z" fill="#3e3e44"/>
<!-- brake arm -->
<path d="M392,662 L402,722 L392,770 L380,780 M410,662 L420,722 L410,772 L398,790" fill="none" stroke="#45454b" stroke-width="1.2"/>
<circle cx="385" cy="785" r="16" fill="#f7f8fc" stroke="#45454b" stroke-width="1.3"/>
<circle cx="385" cy="785" r="6" fill="none" stroke="#6a6a70" stroke-width="1"/>
<path class="ds" d="M232,903 L372,800"/>
<!-- pin -->
<path d="M566,830 L612,815 Q632,825 626,850 L580,866 Q560,855 566,830 Z" fill="#f7f8fc" stroke="#45454b" stroke-width="1.2"/>
<ellipse cx="614" cy="834" rx="10" ry="16" fill="none" stroke="#45454b" stroke-width="1"/>
<path class="d" d="M430,800 L566,842"/>
<!-- upper left swingarm bracket -->
<path class="d" d="M0,162 L100,122 L142,112 L172,142 L222,62 L292,76 L310,90 L250,102 L232,152 L160,172 L110,170"/>
<path class="d" d="M200,0 L242,52 L222,70 M0,190 L90,160"/>
<circle cx="126" cy="142" r="14" fill="none" stroke="#7a7a80" stroke-width="0.9"/>
<path class="d" d="M0,560 Q80,582 150,652 L200,722 L172,772 L122,792 L62,782 L0,752"/>
<path class="d" d="M40,640 L90,640 M100,760 L120,780"/>
<path d="M60,660 L64,664 M80,650 L84,655 M70,680 L74,684 M95,672 L98,676" stroke="#55555b" stroke-width="1.2"/>
<path d="M0,790 L100,855 M0,805 L95,868" stroke="#45454b" stroke-width="1.3" fill="none"/>
<path class="d" d="M110,800 L130,860 L110,870"/>
</g>

<g transform="translate(540,530) scale(0.17719)">
<path class="d" d="M-339,243 Q-200,136 33,108 Q150,110 290,180 Q430,270 560,430 Q680,600 720,760 Q745,900 720,1015 Q690,1120 630,1150 Q540,1215 450,1212 Q360,1205 281,1184 Q190,1150 113,1105 L0,1037"/>
<path class="d" d="M-339,330 Q-280,260 -160,225"/>
<path class="d" d="M-208,404 Q-100,320 0,320 Q200,340 340,480 Q440,600 480,760 Q510,960 450,1059 Q420,1110 371,1116 Q300,1125 225,1116 Q150,1090 90,1048 L0,992"/>
<path class="d" d="M-190,420 Q-90,345 0,345 Q190,365 320,500 Q415,615 455,765 Q480,950 427,1037 Q390,1080 337,1082 Q270,1098 203,1093 Q130,1070 68,1026 L-10,980"/>
<path class="d" d="M-60,520 Q-20,490 60,510 Q130,470 240,500 Q340,560 370,680 Q380,780 340,830 L240,860"/>
<path class="d" d="M100,560 Q200,545 280,600"/>
<!-- fender flap -->
<path class="d" d="M120,125 L190,75 L820,140 L878,215 L838,240 L800,192"/>
<path class="d" d="M135,130 L795,172 L840,222 M190,75 L200,95 L800,150"/>
<!-- reflector -->
<path class="d" d="M570,262 L620,185 L790,250 L850,320 L862,400 L800,470 L700,500 L640,512 L600,482 L580,422 Z"/>
<path class="d" d="M602,272 L640,212 L780,266 L830,332 L836,396 L790,456 L700,480 L652,490 L622,460 L606,410 Z"/>
<path class="d" d="M665,372 L750,342 L775,420 L685,425 Z"/>
<path class="d" d="M668,225 L708,205 L790,250 L770,272 Z"/>
<ellipse class="d" cx="805" cy="335" rx="22" ry="40"/>
<path class="d" d="M780,275 L815,420"/>
</g>

<g transform="translate(579.2,372)"><rect width="27.5" height="27" rx="2" fill="#3e3e43"/><path d="M7.3,4.3 C11,4.6 15.6,6.4 18.3,8.7 C19.5,10.5 19.6,13 20.9,15.1 L27.5,21.5 L27.5,27 L20.9,27 C19.5,25.5 18,23.5 14.9,21.1 C12.5,20 9.5,19.5 7.3,18.1 C5,17 3.2,13.5 2.6,11.1 C4,12 7,13.6 9.2,13.55 C11.5,13.3 13.5,11.8 13.4,10.2 C13,8.8 10.5,6.5 7.3,4.3 Z" fill="#f7f8fc"/></g>
<g transform="translate(579.7,435.3)"><rect width="27.5" height="27" rx="2" fill="#3e3e43"/><path d="M7.3,4.3 C11,4.6 15.6,6.4 18.3,8.7 C19.5,10.5 19.6,13 20.9,15.1 L27.5,21.5 L27.5,27 L20.9,27 C19.5,25.5 18,23.5 14.9,21.1 C12.5,20 9.5,19.5 7.3,18.1 C5,17 3.2,13.5 2.6,11.1 C4,12 7,13.6 9.2,13.55 C11.5,13.3 13.5,11.8 13.4,10.2 C13,8.8 10.5,6.5 7.3,4.3 Z" fill="#f7f8fc"/></g>
<!-- header engine icon -->
<g transform="translate(734.6,5.5)">
<rect width="42" height="42" rx="3" fill="#3c3c41"/>
<path fill="#f7f8fc" d="M8.35,6.6 L20.7,3.45 L22.2,9.2 L26.5,5.2 L29.9,4.6 L32.8,8.06 L33.4,11.5 L32.2,15.5 L25.9,16.1 L25.3,23.6 L35.7,24.8 L37.4,28.8 L36.9,35.7 L35.1,36.9 L21.3,38 L16.7,36.3 L14.4,32.2 L14.4,26.5 L12.7,21.3 L10.9,18.4 L6.9,17.9 L6.3,15 L9.8,12.7 Z"/>
<path fill="#3c3c41" d="M12.7,13 L21.8,11.4 L23.2,19.2 L14,20.6 Z"/>
<path fill="none" stroke="#9a9aa0" stroke-width="0.8" d="M15,15.4 L21.3,14.3 M15.5,17.6 L21.8,16.5"/>
<circle cx="21.9" cy="30.5" r="4.9" fill="#3c3c41"/>
<circle cx="21.9" cy="30.5" r="1.5" fill="#f7f8fc"/>
</g>
<!-- note icons -->
<g transform="translate(138.7,832)">
<rect width="28" height="25.5" rx="2" fill="#47474d"/>
<path fill="#f7f8fc" d="M18.5,2 L27,10.3 L18.5,18.8 L10,10.3 Z"/>
<path fill="#47474d" d="M17.5,6.5 L21.5,10.3 L17.5,14.3 L13.5,10.3 Z"/>
<path fill="none" stroke="#f7f8fc" stroke-width="1.3" d="M1.5,9.5 L3.5,11.5 L1.5,13.5 L3.5,15.5 L1.5,17.5 L3.5,19.5 L1.5,21.5 M4,24.5 L6,22.5 L8,24.5 L10,22.5 L12,24.5 L14,22.5 L16,24.5"/>
</g>
<g transform="translate(138.7,858.6)">
<rect x="0.6" y="0.6" width="27.4" height="27" rx="2.5" fill="#f7f8fc" stroke="#5a5a60" stroke-width="1.2"/>
<path fill="#47474d" d="M0.6,10 L16,27.6 L2.5,27.6 Q0.6,27.6 0.6,25 Z"/>
<path fill="#47474d" d="M12,9 L20.5,17.5 L12,26 L3.5,17.5 Z"/>
<path fill="none" stroke="#f7f8fc" stroke-width="1.2" d="M3.5,17.5 L5.5,19.5 L3.5,21.5 L5.5,23.5 L7.5,22 L9.5,24.5 L11.5,23"/>
<path fill="none" stroke="#5a5a60" stroke-width="1" d="M17.5,10.5 L17.5,5.5 L21,5.5 L23,3 L26,6 L23.5,8.5 L23.5,10.5 Z"/>
</g>

<path d="M227.7,453.2 L287.5,415.5 Q290.5,416 291.4,421 L231.6,458.7" fill="none" stroke="#55555b" stroke-width="1.1"/>
<path d="M276,422.5 L279,427.5 M278.5,421 L281.5,426 M281,419.5 L284,424.5 M283.5,418 L286.5,423" stroke="#6a6a70" stroke-width="0.8"/>
<path class="d" d="M292.5,416.6 L305,407.8"/>
<path d="M342.3,671.4 L355.2,662 Q358.5,662.5 357.8,665.8 L345,675.1" fill="none" stroke="#55555b" stroke-width="1.1"/>
<path d="M347,670 L349,673 M349.5,668.2 L351.5,671.2 M352,666.4 L354,669.4" stroke="#6a6a70" stroke-width="0.8"/>
<circle cx="337.9" cy="677.1" r="5.3" fill="#f7f8fc" stroke="#4a4a50" stroke-width="1.3"/>
<path d="M335.6,674.8 L338.2,673.6 L340.6,675.2 L340.4,678.2 L337.8,679.6 L335.4,678 Z" fill="none" stroke="#5a5a60" stroke-width="0.9"/>

<path class="ds" d="M235.8,585 Q252,603 280,616 Q305,627 335.5,639.7"/>

</svg>

<div class="abs" style="left:610px;top:379px;font-size:10.5px;color:#4a4a50;">69 N·m</div>
<div class="abs" style="left:611px;top:442px;font-size:10.5px;color:#4a4a50;">26 N·m</div>
<div class="note" style="left:180px;top:823px;">•</div><div class="note" style="left:192px;top:823px;">Quick joint</div><svg width="11" height="8" viewBox="0 0 11 8" style="position:absolute;left:254.4px;top:826px;"><path d="M0,2.6 L5.6,2.6 L4.2,0 L6.2,0 L11,4 L6.2,8 L4.2,8 L5.6,5.4 L0,5.4 Z" fill="#47474d"/></svg><div class="note" style="left:266px;top:823px;">2-2</div>
<div class="note" style="left:180px;top:836.5px;">•</div><div class="note" style="left:192px;top:836.5px;">Step floor</div><svg width="11" height="8" viewBox="0 0 11 8" style="position:absolute;left:249.7px;top:839.5px;"><path d="M0,2.6 L5.6,2.6 L4.2,0 L6.2,0 L11,4 L6.2,8 L4.2,8 L5.6,5.4 L0,5.4 Z" fill="#47474d"/></svg><div class="note" style="left:262px;top:836.5px;">3-15</div>
<div class="note" style="left:180px;top:851.5px;">•</div>
<div style="position:absolute;left:192px;top:855.3px;width:13.3px;height:9.3px;box-sizing:border-box;border:1px solid #a4a4aa;font-family:'Liberation Sans',sans-serif;font-size:8.5px;line-height:8px;text-align:center;color:#505056;">1</div>
<div class="note" style="left:209.5px;top:851.5px;word-spacing:1.1px;">Apabila link penggantung mesin dilepaskan, kencangkan mur as link penggantung mesin (sisi mesin)</div>
<div class="note" style="left:193px;top:866px;">dengan torsi sesuai spesifikasi sambil menahan baut as.</div>
</body></html>
